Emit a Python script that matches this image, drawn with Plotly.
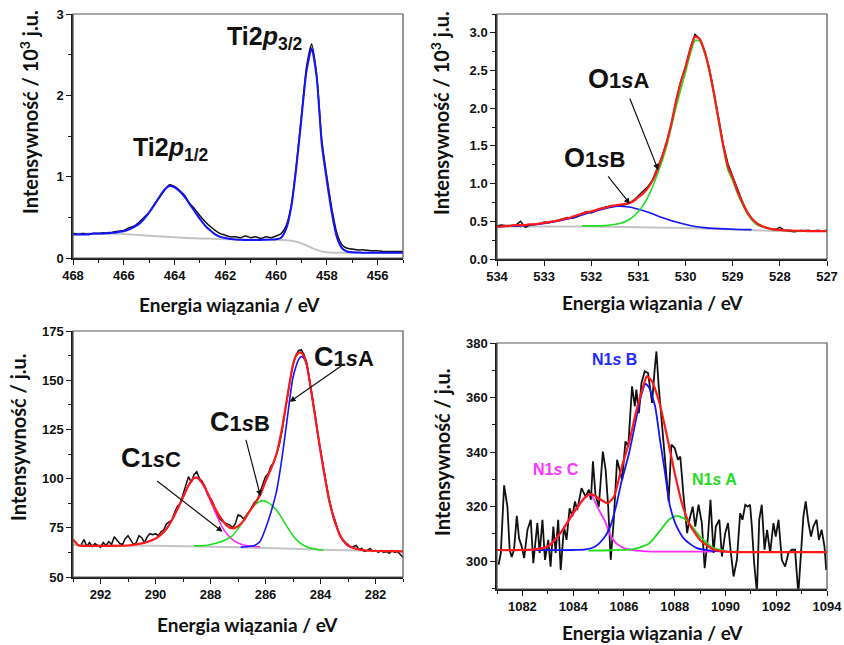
import plotly.graph_objects as go

# ---------------- Ti 2p ----------------
ti_be = [468.0, 467.8, 467.6, 467.4, 467.2, 467.0, 466.8, 466.6, 466.4, 466.2,
         466.0, 465.8, 465.6, 465.4, 465.2, 465.0, 464.8, 464.6, 464.4, 464.2,
         464.0, 463.8, 463.6, 463.4, 463.2, 463.0, 462.8, 462.6, 462.4, 462.2,
         462.0, 461.8, 461.6, 461.4, 461.2, 461.0, 460.8, 460.6, 460.4, 460.2,
         460.0, 459.8, 459.6, 459.4, 459.2, 459.0, 458.8, 458.6, 458.4, 458.2,
         458.0, 457.8, 457.6, 457.4, 457.2, 457.0, 456.8, 456.6, 456.4, 456.2,
         456.0, 455.8, 455.6, 455.4, 455.2, 455.0]
ti_counts = [0.30, 0.29, 0.30, 0.29, 0.30, 0.30, 0.31, 0.30, 0.32, 0.33,
             0.34, 0.37, 0.39, 0.44, 0.50, 0.56, 0.66, 0.74, 0.83, 0.90,
             0.88, 0.83, 0.77, 0.67, 0.60, 0.52, 0.45, 0.39, 0.34, 0.30,
             0.28, 0.26, 0.26, 0.25, 0.27, 0.25, 0.26, 0.24, 0.26, 0.25,
             0.27, 0.30, 0.40, 0.65, 1.15, 1.75, 2.35, 2.63, 2.25, 1.45,
             1.00, 0.60, 0.30, 0.16, 0.12, 0.11, 0.10, 0.10, 0.095, 0.09,
             0.09, 0.08, 0.08, 0.08, 0.08, 0.08]
ti_fit = [0.29, 0.29, 0.29, 0.29, 0.30, 0.30, 0.30, 0.31, 0.31, 0.32,
          0.33, 0.35, 0.38, 0.42, 0.48, 0.56, 0.65, 0.75, 0.84, 0.885,
          0.87, 0.82, 0.75, 0.66, 0.57, 0.48, 0.40, 0.34, 0.29, 0.26,
          0.245, 0.235, 0.228, 0.224, 0.222, 0.221, 0.221, 0.222, 0.224, 0.226,
          0.23, 0.25, 0.36, 0.63, 1.12, 1.72, 2.30, 2.58, 2.22, 1.40,
          0.95, 0.55, 0.25, 0.12, 0.08, 0.07, 0.068, 0.066, 0.065, 0.065,
          0.065, 0.065, 0.065, 0.065, 0.065, 0.065]
ti_bg_be = [468, 467, 466, 465, 464, 463, 462, 461, 460, 459.5, 459.2, 459.0,
            458.8, 458.6, 458.4, 458.2, 458.0, 457.5, 457, 456, 455]
ti_bg = [0.30, 0.30, 0.295, 0.275, 0.255, 0.24, 0.232, 0.228, 0.224, 0.215, 0.20, 0.18,
         0.155, 0.125, 0.10, 0.08, 0.072, 0.066, 0.065, 0.065, 0.065]

# ---------------- O 1s ----------------
o_be = [round(534.0 - 0.1 * i, 1) for i in range(71)]
o_counts = [0.44, 0.45, 0.44, 0.45, 0.45, 0.50, 0.42, 0.45, 0.46, 0.46,
            0.49, 0.48, 0.50, 0.52, 0.53, 0.55, 0.54, 0.56, 0.60, 0.63,
            0.61, 0.64, 0.67, 0.69, 0.70, 0.70, 0.71, 0.72, 0.74, 0.78,
            0.84, 0.90, 0.96, 1.05, 1.20, 1.36, 1.55, 1.80, 2.10, 2.36,
            2.55, 2.80, 2.98, 2.92, 2.77, 2.54, 2.22, 1.87, 1.52, 1.26,
            1.10, 0.92, 0.77, 0.63, 0.54, 0.48, 0.44, 0.41, 0.40, 0.39,
            0.42, 0.38, 0.37, 0.36, 0.37, 0.37, 0.38, 0.37, 0.38, 0.37,
            0.38]
o_fit = [0.43, 0.43, 0.44, 0.44, 0.45, 0.45, 0.45, 0.46, 0.46, 0.47,
         0.48, 0.49, 0.50, 0.51, 0.53, 0.54, 0.56, 0.58, 0.60, 0.62,
         0.63, 0.65, 0.67, 0.68, 0.70, 0.71, 0.72, 0.73, 0.74, 0.77,
         0.82, 0.87, 0.94, 1.04, 1.18, 1.35, 1.55, 1.80, 2.10, 2.35,
         2.55, 2.78, 2.95, 2.92, 2.76, 2.52, 2.20, 1.85, 1.50, 1.22,
         1.08, 0.90, 0.76, 0.63, 0.54, 0.48, 0.44, 0.42, 0.40, 0.39,
         0.385, 0.38, 0.38, 0.375, 0.375, 0.375, 0.37, 0.37, 0.37, 0.37,
         0.37]
o_a_be = [532.2, 532.0, 531.8, 531.6, 531.4, 531.2, 531.0, 530.8, 530.6, 530.4,
          530.2, 530.0, 529.9, 529.8, 529.7, 529.6, 529.5, 529.4, 529.3, 529.2,
          529.1, 529.0, 528.9, 528.8, 528.7, 528.6, 528.5, 528.4, 528.2, 528.0,
          527.5, 527.0]
o_a = [0.44, 0.44, 0.44, 0.45, 0.47, 0.52, 0.63, 0.82, 1.12, 1.50,
       2.02, 2.48, 2.72, 2.90, 2.89, 2.74, 2.50, 2.18, 1.83, 1.48,
       1.18, 1.04, 0.87, 0.73, 0.61, 0.52, 0.46, 0.43, 0.40, 0.385,
       0.375, 0.37]
o_b_be = [534.0, 533.5, 533.0, 532.5, 532.0, 531.7, 531.45, 531.2, 531.0, 530.7,
          530.5, 530.2, 529.8, 529.5, 529.0, 528.6]
o_b = [0.43, 0.44, 0.47, 0.53, 0.62, 0.67, 0.70, 0.69, 0.66, 0.60,
       0.55, 0.49, 0.43, 0.41, 0.395, 0.39]
o_bg_be = [534, 532, 530, 529, 528, 527]
o_bg = [0.43, 0.43, 0.41, 0.39, 0.37, 0.37]

# ---------------- C 1s ----------------
c_be = [round(292.7 - 0.1 * i, 1) for i in range(118)]
c_counts = [66.5, 69, 65.5, 67.5, 65.5, 67, 66, 65, 67.5, 66,
            68, 66.5, 70.5, 69, 67, 66.5, 69.5, 71, 69, 66.5,
            67.5, 71, 70, 67.5, 70.5, 72, 71.5, 72, 71, 73,
            74, 77, 78, 79, 83, 86, 87.5, 92, 96, 101,
            98, 102, 103.5, 100, 98.5, 96, 91.5, 90, 87.5, 83,
            80, 78.5, 77.5, 77, 76.5, 75, 77, 81.5, 81, 79.5,
            81, 83, 85.5, 88, 89, 93, 96, 101, 102.5, 106.5,
            108, 112, 117, 124, 134, 142, 150.5, 158, 162.5, 165,
            165.5, 163, 159, 151, 141.5, 133, 122.5, 114, 106, 97,
            90.5, 84.5, 79.5, 75.5, 71, 69, 67.5, 66.5, 65, 65.5,
            66, 64, 64.5, 63, 63.5, 64.5, 63, 63.5, 62.5, 63.5,
            62.5, 63, 62, 63.5, 62.5, 63, 61.5, 60]
c_fit_be = [293.0, 292.9, 292.8, 292.6, 292.0, 291.5, 291.0, 290.6, 290.3, 290.0,
            289.8, 289.6, 289.4, 289.2, 289.0, 288.8, 288.6, 288.5, 288.4, 288.2,
            288.0, 287.8, 287.6, 287.4, 287.2, 287.0, 286.8, 286.6, 286.4, 286.2,
            286.0, 285.8, 285.6, 285.4, 285.2, 285.0, 284.9, 284.8, 284.7, 284.6,
            284.5, 284.4, 284.3, 284.2, 284.1, 284.0, 283.9, 283.8, 283.7, 283.6,
            283.5, 283.4, 283.3, 283.2, 283.1, 283.0, 282.8, 282.6, 282.4, 282.0,
            281.5, 281.0]
c_fit = [69, 67.5, 66, 65.8, 65.8, 65.8, 66, 66.8, 67.8, 69.5,
         71.5, 74.5, 79, 84.5, 90.5, 96.5, 100.3, 100.5, 99.5, 95.5,
         89.5, 84, 79.5, 76, 74.7, 75.8, 78.5, 83, 87, 91.5,
         98.5, 105, 112.5, 125.5, 142, 158, 162, 163.8, 164, 162,
         158, 150, 141, 132, 123, 114, 105.5, 97.5, 90, 84,
         79, 75, 71.5, 69, 67.3, 66, 64.7, 64, 63.6, 63.2,
         63.1, 63]
c_a_be = [286.9, 286.6, 286.4, 286.2, 286.0, 285.8, 285.6, 285.4, 285.2, 285.0,
          284.8, 284.7, 284.6, 284.5, 284.4, 284.3, 284.2, 284.1, 284.0, 283.9,
          283.8, 283.7, 283.6, 283.5, 283.4, 283.3, 283.2, 283.1, 283.0, 282.8,
          282.6]
c_a = [65.2, 65.5, 66.0, 68.0, 74.5, 83.0, 93.5, 110.5, 131.5, 151.5,
       160.5, 162.0, 161.0, 157.5, 150, 141, 132, 123, 114, 105.5,
       97.5, 90, 84, 79, 75, 71.5, 69, 67.3, 66, 64.7,
       64]
c_b_be = [288.6, 288.2, 287.8, 287.5, 287.2, 287.0, 286.8, 286.6, 286.4, 286.2,
          286.1, 286.0, 285.8, 285.6, 285.4, 285.2, 285.0, 284.8, 284.6, 284.4,
          284.2, 284.0, 283.9]
c_b = [65.8, 66.0, 67.2, 68.5, 71.0, 74.5, 78.5, 83.0, 86.5, 88.5,
       88.8, 88.5, 86.8, 84.0, 79.8, 75.2, 71.0, 68.0, 66.0, 64.8,
       64.2, 63.8, 63.6]
c_c_be = [290.6, 290.3, 290.0, 289.8, 289.6, 289.4, 289.2, 289.0, 288.8, 288.6,
          288.5, 288.4, 288.2, 288.0, 287.8, 287.6, 287.4, 287.2, 287.0, 286.8,
          286.6, 286.4, 286.2]
c_c = [66.8, 67.8, 69.5, 71.5, 74.5, 79, 84.5, 90.5, 96.5, 100.2,
       100.4, 99.3, 95.0, 88.5, 82.0, 76.0, 71.8, 69.0, 67.3, 66.3,
       65.8, 65.5, 65.3]
c_bg_be = [293.0, 290.0, 288.0, 286.0, 284.0, 282.0, 281.0]
c_bg = [66.3, 65.9, 65.4, 64.7, 63.9, 63.2, 63.0]

# ---------------- N 1s ----------------
n_be = [1081.06, 1081.15, 1081.28, 1081.41, 1081.50, 1081.58, 1081.67, 1081.78, 1081.87, 1081.96,
        1082.07, 1082.20, 1082.33, 1082.43, 1082.59, 1082.68, 1082.79, 1082.89, 1083.02, 1083.11,
        1083.22, 1083.31, 1083.41, 1083.51, 1083.64, 1083.74, 1083.86, 1083.97, 1084.07, 1084.16,
        1084.33, 1084.49, 1084.62, 1084.70, 1084.78, 1084.88, 1085.01, 1085.17, 1085.28, 1085.38,
        1085.48, 1085.60, 1085.73, 1085.83, 1085.93, 1086.06, 1086.17, 1086.32, 1086.43, 1086.49,
        1086.59, 1086.69, 1086.82, 1086.95, 1087.11, 1087.21, 1087.28, 1087.37, 1087.48, 1087.61,
        1087.76, 1087.87, 1088.00, 1088.13, 1088.22, 1088.35, 1088.49, 1088.58, 1088.71, 1088.81,
        1088.94, 1089.07, 1089.18, 1089.31, 1089.41, 1089.53, 1089.62, 1089.76, 1089.86, 1089.99,
        1090.10, 1090.20, 1090.32, 1090.45, 1090.58, 1090.67, 1090.78, 1090.88, 1090.97, 1091.04,
        1091.13, 1091.24, 1091.33, 1091.43, 1091.54, 1091.64, 1091.76, 1091.89, 1091.98, 1092.09,
        1092.22, 1092.35, 1092.48, 1092.61, 1092.74, 1092.87, 1092.98, 1093.07, 1093.16, 1093.27,
        1093.37, 1093.46, 1093.59, 1093.68, 1093.79, 1093.90, 1093.97]
n_counts = [298.7, 302.9, 327.8, 320.0, 304.2, 301.5, 304.2, 316.6, 308.3, 305.8,
            301.1, 311.5, 315.2, 299.3, 314.0, 303.0, 315.2, 300.5, 307.8, 298.0,
            312.7, 303.0, 315.2, 296.8, 312.7, 307.8, 319.4, 316.4, 321.9, 318.8,
            326.8, 323.7, 326.2, 322.5, 336.6, 324.3, 320.0, 340.2, 333.5, 320.0,
            300.5, 315.2, 337.2, 332.9, 329.8, 343.9, 342.0, 364.1, 356.8, 362.9,
            354.3, 365.3, 369.6, 369.0, 358.0, 370.2, 376.9, 364.1, 351.9, 337.2,
            321.9, 342.7, 341.5, 337.2, 338.4, 323.7, 310.3, 315.2, 320.0, 312.7,
            320.7, 314.0, 297.4, 309.0, 322.5, 303.0, 312.7, 315.2, 301.7, 310.3,
            314.0, 304.2, 294.4, 300.5, 317.6, 315.2, 320.7, 320.0, 320.7, 312.7,
            299.3, 288.5, 315.2, 320.7, 304.2, 311.5, 303.0, 314.0, 309.0, 315.2,
            300.5, 298.0, 303.0, 304.2, 304.2, 288.0, 304.2, 316.4, 321.9, 314.0,
            309.0, 312.7, 315.2, 307.8, 311.5, 305.4, 296.8]
n_fit_be = [1081.0, 1082.0, 1082.5, 1083.0, 1083.5, 1084.0, 1084.5, 1084.7, 1085.0, 1085.35,
            1085.6, 1085.9, 1086.2, 1086.5, 1086.8, 1086.9, 1087.1, 1087.4, 1087.7, 1088.0,
            1088.3, 1088.6, 1089.0, 1089.5, 1090.0, 1091.0, 1094.0]
n_fit = [304.1, 304.1, 304.3, 305.4, 310.3, 317.6, 323.7, 324.7, 323.1, 321.3,
         323.5, 334.0, 343.5, 355.5, 365.3, 367.8, 366.0, 358.0, 345.7, 332.3,
         320.7, 313.3, 307.8, 304.4, 303.5, 303.3, 303.3]
n_b_be = [1082.5, 1084.0, 1084.5, 1084.87, 1085.2, 1085.46, 1085.7, 1085.9, 1086.2, 1086.5,
          1086.7, 1086.85, 1087.0, 1087.23, 1087.42, 1087.62, 1087.82, 1088.08, 1088.41, 1088.87,
          1089.5, 1090.0]
n_b = [304.1, 304.1, 304.3, 305.4, 308.3, 312.7, 320.5, 329.0, 339.5, 353.0,
       361.5, 365.0, 363.5, 356.7, 344.5, 332.3, 320.0, 312.7, 307.8, 304.8,
       303.8, 303.5]
n_c_be = [1082.0, 1082.5, 1083.0, 1083.5, 1084.0, 1084.4, 1084.7, 1085.0, 1085.26, 1085.46,
          1085.7, 1086.0, 1086.4, 1086.9, 1087.5, 1088.5, 1089.5]
n_c = [304.1, 304.3, 305.4, 310.3, 317.3, 322.8, 324.4, 319.0, 314.5, 309.5,
       306.5, 304.8, 304.0, 303.6, 303.5, 303.5, 303.5]
n_a_be = [1084.6, 1085.5, 1086.3, 1086.6, 1087.0, 1087.5, 1087.8, 1088.1, 1088.4, 1088.7,
          1089.0, 1089.5, 1090.0]
n_a = [303.9, 304.0, 304.3, 305.0, 306.6, 312.1, 315.5, 316.6, 315.5, 312.5,
       309.0, 305.0, 303.8]

BLACK = "#111111"
BLUE = "#1414ff"
RED = "#ff1a1a"
GREEN = "#1ee01e"
MAGENTA = "#ff2bff"
GRAY = "#c4c4c4"

W, H = 844, 645
fig = go.Figure()


def add(x, y, color, width, xa, ya, shape="spline"):
    fig.add_trace(go.Scatter(x=x, y=y, mode="lines",
                             line=dict(color=color, width=width, shape=shape, smoothing=0.6),
                             xaxis=xa, yaxis=ya, showlegend=False, hoverinfo="skip",
                             cliponaxis=True))


# panel 1
add(ti_bg_be, ti_bg, GRAY, 2, "x", "y")
add(ti_be, ti_counts, BLACK, 1.5, "x", "y")
add(ti_be, ti_fit, BLUE, 2, "x", "y")
# panel 2
add(o_bg_be, o_bg, GRAY, 2, "x2", "y2")
add(o_be, o_counts, BLACK, 1.5, "x2", "y2", "linear")
add(o_b_be, o_b, BLUE, 1.6, "x2", "y2")
add(o_a_be, o_a, GREEN, 1.6, "x2", "y2")
add(o_be, o_fit, RED, 2.2, "x2", "y2")
# panel 3
add(c_bg_be, c_bg, GRAY, 2, "x3", "y3")
add(c_be, c_counts, BLACK, 1.5, "x3", "y3", "linear")
add(c_c_be, c_c, MAGENTA, 1.6, "x3", "y3")
add(c_b_be, c_b, GREEN, 1.6, "x3", "y3")
add(c_a_be, c_a, BLUE, 1.6, "x3", "y3")
add(c_fit_be, c_fit, RED, 2.2, "x3", "y3")
# panel 4
add(n_be, n_counts, BLACK, 1.8, "x4", "y4", "linear")
add(n_c_be, n_c, MAGENTA, 1.8, "x4", "y4")
add(n_a_be, n_a, GREEN, 1.8, "x4", "y4")
add(n_b_be, n_b, BLUE, 1.8, "x4", "y4")
add(n_fit_be, n_fit, RED, 2.2, "x4", "y4")

TICKFONT = dict(family="Liberation Sans, Arial", size=13, color="#111111", weight="bold")


def axis(domain, rng, dtick, minor, anchor, tick0=0, fmt=None):
    d = dict(domain=domain, range=rng, dtick=dtick, tick0=tick0, anchor=anchor,
             showline=True, linecolor="#1a1a1a", linewidth=1.5, mirror=False,
             ticks="outside", ticklen=5, tickwidth=1.4, tickcolor="#1a1a1a",
             showgrid=False, zeroline=False, tickfont=TICKFONT, fixedrange=True,
             automargin=False)
    if minor:
        d["minor"] = dict(dtick=minor, tick0=tick0, ticks="outside", ticklen=3,
                          tickwidth=1.1, tickcolor="#1a1a1a", showgrid=False)
    if fmt:
        d["tickformat"] = fmt
    return d


def px_x(a, b):
    return [a / W, b / W]


def px_y(top, bottom):
    return [1 - bottom / H, 1 - top / H]


fig.update_layout(
    width=W, height=H,
    margin=dict(l=0, r=0, t=0, b=0, pad=0, autoexpand=False),
    paper_bgcolor="white", plot_bgcolor="white",
    xaxis=axis(px_x(73, 403), [468, 455], 2, 1, "y"),
    yaxis=axis(px_y(14, 258), [0, 3], 1, 0.5, "x"),
    xaxis2=axis(px_x(497, 827), [534, 527], 1, None, "y2"),
    yaxis2=axis(px_y(14, 259), [0, 3.25], 0.5, 0.25, "x2", fmt=".1f"),
    xaxis3=axis(px_x(73, 403), [293, 281], 2, 1, "y3"),
    yaxis3=axis(px_y(331, 577), [50, 175], 25, 12.5, "x3"),
    xaxis4=axis(px_x(497, 827), [1081, 1094], 2, 1, "y4"),
    yaxis4=axis(px_y(343, 589), [289.8, 380], 20, 10, "x4", tick0=300),
)

# frames (top/right sides)
for xa, ya in [("x", "y"), ("x2", "y2"), ("x3", "y3"), ("x4", "y4")]:
    fig.add_shape(type="rect", xref=f"{xa} domain", yref=f"{ya} domain",
                  x0=0, x1=1, y0=0, y1=1, line=dict(color="#555555", width=1.2),
                  layer="above")

TITLEFONT = dict(family="Lato, Open Sans, sans-serif", size=19, color="#111111", weight="bold")
YTITLEFONT = dict(TITLEFONT, size=20)


def ptext(text, x, y, font, angle=0):
    fig.add_annotation(text=text, x=x / W, y=1 - y / H, xref="paper", yref="paper",
                       xanchor="center", yanchor="middle", showarrow=False,
                       font=font, textangle=angle)


# axis titles
xt = "Energia wiązania / eV"
ptext(xt, 229, 305, TITLEFONT)
ptext(xt, 652, 302, TITLEFONT)
ptext(xt, 247, 624, TITLEFONT)
ptext(xt, 652, 632, TITLEFONT)
ptext("Intensywność / 10<sup>3</sup> j.u.", 29, 112, YTITLEFONT, -90)
ptext("Intensywność / 10<sup>3</sup> j.u.", 440, 113, YTITLEFONT, -90)
ptext("Intensywność / j.u.", 18, 437, YTITLEFONT, -90)
ptext("Intensywność / j.u.", 442, 452, YTITLEFONT, -90)

LBL = dict(family="Liberation Sans, Arial", size=22, color="#111111", weight="bold")
big = "<span style='font-size:27px'>{}</span>"

ptext("Ti2<i>p</i><sub>3/2</sub>", 265, 38, dict(LBL, size=25))
ptext("Ti2<i>p</i><sub>1/2</sub>", 171, 149, dict(LBL, size=25))
ptext(big.format("O") + "1<i>s</i>A", 619, 79, LBL)
ptext(big.format("O") + "1<i>s</i>B", 594, 158, LBL)
ptext(big.format("C") + "1<i>s</i>A", 344, 357, LBL)
ptext(big.format("C") + "1<i>s</i>B", 240, 422, LBL)
ptext(big.format("C") + "1<i>s</i>C", 151, 458, LBL)

NF = dict(family="Liberation Sans, Arial", size=16, weight="bold")
ptext("N1<i>s</i> B", 614, 359, dict(NF, color="#1f2bff"))
ptext("N1<i>s</i> C", 556, 469, dict(NF, color="#ff33ff"))
ptext("N1<i>s</i> A", 714, 479, dict(NF, color="#22dd22"))


def arrow(xa, ya, x, y, ax, ay):
    fig.add_annotation(x=x, y=y, xref=xa, yref=ya, ax=ax, ay=ay, text="",
                       showarrow=True, arrowhead=2, arrowsize=1, arrowwidth=1.2,
                       arrowcolor="#111111")


arrow("x2", "y2", 530.58, 1.18, -29, -73)
arrow("x2", "y2", 531.18, 0.73, -23, -29)
arrow("x3", "y3", 285.12, 139, 53, -37)
arrow("x3", "y3", 286.18, 91, -15, -58)
arrow("x3", "y3", 287.56, 73, -67, -52)

fig.write_html("out.html",
               config={"displayModeBar": False},
               post_script="document.body.style.margin='0';document.body.style.padding='0';")
